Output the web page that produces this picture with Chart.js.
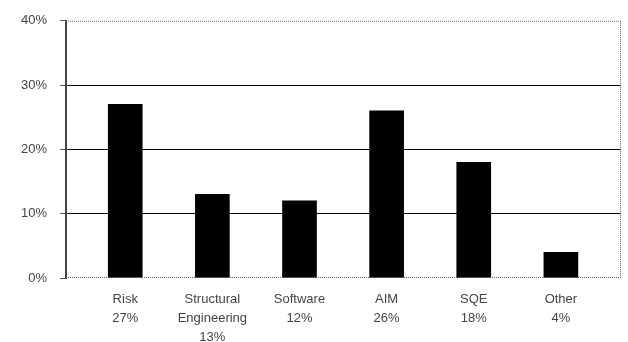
<!DOCTYPE html>
<html>
<head>
<meta charset="utf-8">
<script src="https://cdn.jsdelivr.net/npm/chart.js@4"></script>
<style>
  html, body { margin: 0; padding: 0; background: #fff; }
  #wrap { width: 628px; height: 342px; }
</style>
</head>
<body>
<div id="wrap"><canvas id="canvas"></canvas></div>
<script>
// share of work by area
const categories = [['Risk'], ['Structural', 'Engineering'], ['Software'], ['AIM'], ['SQE'], ['Other']];
const shares = [27, 13, 12, 26, 18, 4];
const yTicks = [0, 10, 20, 30, 40];

// dotted frame on top, right and bottom like the old plot
const frame = {
  id: 'frame',
  afterDatasetsDraw(chart) {
    const { ctx, chartArea: a } = chart;
    ctx.save();
    ctx.strokeStyle = '#666';
    ctx.lineWidth = 1;
    ctx.setLineDash([1, 1]);
    ctx.beginPath();
    ctx.moveTo(a.left, a.top + 0.5);
    ctx.lineTo(a.right, a.top + 0.5);
    ctx.moveTo(a.right - 0.5, a.top);
    ctx.lineTo(a.right - 0.5, a.bottom);
    ctx.moveTo(a.left, a.bottom - 0.5);
    ctx.lineTo(a.right, a.bottom - 0.5);
    ctx.stroke();
    ctx.restore();
  }
};

var ctx = document.getElementById('canvas').getContext('2d');
var chart = new Chart(ctx, {
  type: 'bar',
  data: {
    datasets: [{
      data: shares.map((v, i) => ({ x: i, y: v })),
      backgroundColor: '#000',
      borderWidth: 0,
      barThickness: 34
    }]
  },
  options: {
    responsive: true,
    maintainAspectRatio: false,
    animation: false,
    layout: { padding: { left: 0, top: 19, right: 7, bottom: 0 } },
    plugins: { legend: { display: false }, tooltip: { enabled: false } },
    scales: {
      x: {
        type: 'linear',
        offset: false,
        min: -0.68,
        max: 5.69,
        afterBuildTicks: s => { s.ticks = categories.map((c, i) => ({ value: i })); },
        afterFit: s => { s.height = 64; },
        grid: { display: false },
        border: { display: false },
        ticks: {
          padding: 4,
          maxRotation: 0,
          autoSkip: false,
          color: '#444',
          font: { family: 'Liberation Sans', size: 13, lineHeight: 1.45 },
          callback: v => categories[v].concat(shares[v] + '%')
        }
      },
      y: {
        min: 0,
        max: 40,
        afterBuildTicks: s => { s.ticks = yTicks.map(v => ({ value: v })); },
        afterFit: s => { s.width = 66; },
        grid: {
          color: c => (c.tick.value === 0 || c.tick.value === 40) ? 'rgba(0,0,0,0)' : '#000',
          tickColor: '#555',
          tickLength: 6,
          lineWidth: 1
        },
        border: { display: true, color: '#444', width: 2 },
        ticks: {
          padding: 13,
          color: '#444',
          font: { family: 'Liberation Sans', size: 13 },
          callback: v => v + '%'
        }
      }
    }
  },
  plugins: [frame]
});
</script>
</body>
</html>
